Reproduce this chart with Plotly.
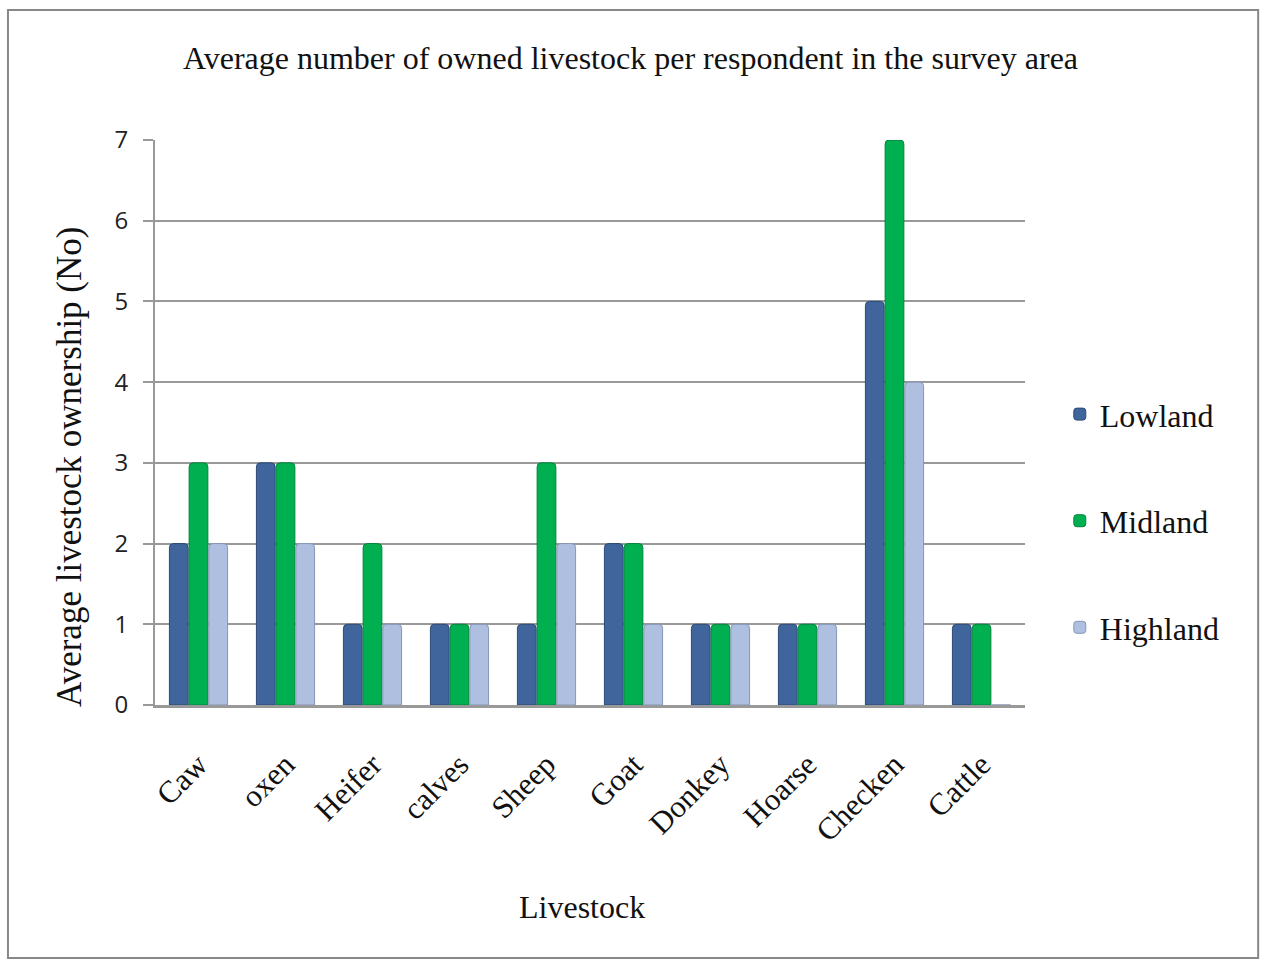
import plotly.graph_objects as go

categories = ["Caw", "oxen", "Heifer", "calves", "Sheep", "Goat", "Donkey", "Hoarse", "Checken", "Cattle"]
lowland = [2, 3, 1, 1, 1, 2, 1, 1, 5, 1]
midland = [3, 3, 2, 1, 3, 2, 1, 1, 7, 1]
highland = [2, 2, 1, 1, 2, 1, 1, 1, 4, 0]
y_ticks = [0, 1, 2, 3, 4, 5, 6, 7]

series = [
    ("Lowland", lowland, "#3f659c", "#2c4a75"),
    ("Midland", midland, "#00b050", "#00843c"),
    ("Highland", highland, "#aebfe0", "#8596b8"),
]

fig = go.Figure()
for i, (name, vals, col, edge) in enumerate(series):
    fig.add_trace(go.Bar(
        x=categories, y=vals, name=name,
        marker=dict(color=col, line=dict(color=edge, width=1), cornerradius=4),
        legendgroup=name,
    ))

serif = "Liberation Serif"
fig.update_layout(
    width=1261, height=964,
    paper_bgcolor="white", plot_bgcolor="white",
    margin=dict(l=155, r=236, t=140, b=259),
    barmode="group", bargap=0.32, bargroupgap=0.05,
    title=dict(text="Average number of owned livestock per respondent in the survey area",
               x=0.5, xref="container", y=0.94, yanchor="middle",
               font=dict(family=serif, size=32, color="#111")),
    legend=dict(x=1.04, y=0.326, xanchor="left", yanchor="middle",
                font=dict(family=serif, size=32, color="#111"),
                tracegroupgap=62, itemwidth=30),
    font=dict(family=serif, color="#111"),
    xaxis=dict(
        tickangle=-45, tickfont=dict(family=serif, size=31),
        ticks="outside", ticklen=26, tickcolor="rgba(0,0,0,0)",
        showline=True, linecolor="#999", linewidth=3,
        showgrid=False,
    ),
    yaxis=dict(
        range=[0, 7], tickvals=y_ticks,
        tickfont=dict(family="Open Sans", size=24, color="#222"),
        ticklabelstandoff=10,
        showline=True, linecolor="#999", linewidth=2,
        ticks="outside", ticklen=10, tickcolor="#999", tickwidth=2,
        showgrid=True, gridcolor="#999", gridwidth=2,
        zeroline=False,
    ),
    annotations=[
        dict(text="Average livestock ownership (No)", textangle=-90,
             xref="paper", yref="paper", x=-0.099, y=0.421,
             xanchor="center", yanchor="middle",
             showarrow=False, font=dict(family=serif, size=35, color="#111")),
        dict(text="Livestock", xref="paper", yref="paper", x=0.491, y=-0.358,
             xanchor="center", yanchor="middle",
             showarrow=False, font=dict(family=serif, size=32, color="#111")),
    ],
    shapes=[dict(type="rect", xref="paper", yref="paper",
                 x0=-0.169, x1=1.268, y0=-0.448, y1=1.230,
                 line=dict(color="#888", width=2), fillcolor="rgba(0,0,0,0)", layer="below")],
)

fig.write_html("out.html")
